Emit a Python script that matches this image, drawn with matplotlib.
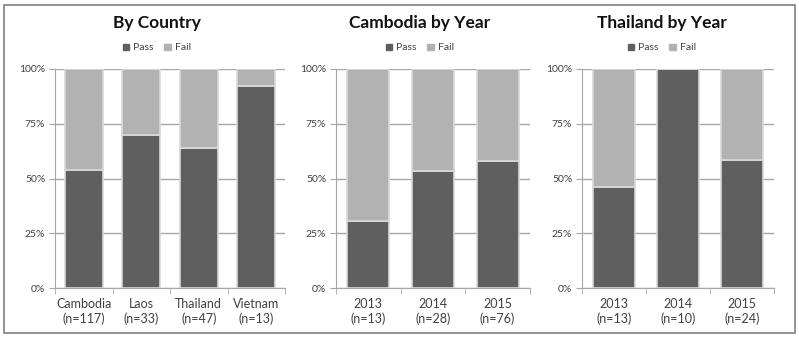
import matplotlib
matplotlib.use("Agg")
from matplotlib import pyplot as plt
from matplotlib.patches import Rectangle, Patch
from matplotlib.ticker import FixedLocator, PercentFormatter

plt.rcParams['font.family'] = ['Lato', 'DejaVu Sans']

# counts (pass / total)
country_names = ['Cambodia', 'Laos', 'Thailand', 'Vietnam']
country_pass = [63, 23, 30, 12]
country_n = [117, 33, 47, 13]

cambodia_years = ['2013', '2014', '2015']
cambodia_pass = [4, 15, 44]
cambodia_n = [13, 28, 76]

thailand_years = ['2013', '2014', '2015']
thailand_pass = [6, 10, 14]
thailand_n = [13, 10, 24]

PASS_C = '#5f5f5f'
FAIL_C = '#b2b2b2'
EDGE_C = '#d9d9d9'
AX_C = '#a6a6a6'
TXT_C = '#404040'

W, H = 799, 339


def px_axes(fig, left, right, top, bottom):
	return fig.add_axes([left / W, (H - bottom) / H, (right - left) / W, (bottom - top) / H])


def panel(fig, box, cats, passed, totals, title, cx, width):
	ax = px_axes(fig, *box)
	xs = list(range(len(cats)))
	p = [100.0 * a / b for a, b in zip(passed, totals)]
	f = [100.0 - v for v in p]
	ax.bar(xs, p, width=width, color=PASS_C, edgecolor=EDGE_C, linewidth=1.2, zorder=3)
	ax.bar(xs, f, bottom=p, width=width, color=FAIL_C, edgecolor=EDGE_C, linewidth=1.2, zorder=3)
	ax.set_xlim(-0.5, len(cats) - 0.5)
	ax.set_ylim(0, 100)
	ax.yaxis.set_major_locator(FixedLocator([0, 25, 50, 75, 100]))
	ax.yaxis.set_major_formatter(PercentFormatter(decimals=0))
	ax.grid(axis='y', color=AX_C, linewidth=1, zorder=0)
	ax.set_axisbelow(True)
	ax.set_xticks(xs)
	ax.set_xticklabels(['%s\n(n=%d)' % (c, n) for c, n in zip(cats, totals)],
		fontsize=9, color=TXT_C, linespacing=1.3)
	ax.set_xticks([i - 0.5 for i in range(len(cats) + 1)], minor=True)
	ax.tick_params(axis='x', which='major', length=0, pad=7)
	ax.tick_params(axis='x', which='minor', length=4, color=AX_C, direction='out')
	ax.tick_params(axis='y', length=4, color=AX_C, labelsize=7.5, labelcolor=TXT_C, pad=3)
	for s in ('top', 'right'):
		ax.spines[s].set_visible(False)
	for s in ('left', 'bottom'):
		ax.spines[s].set_color(AX_C)
	fig.text(cx / W, 1 - 23 / H, title, ha='center', va='center', fontsize=12.5,
		fontweight='bold', color='#111111')
	handles = [Patch(color=PASS_C), Patch(color=FAIL_C)]
	fig.legend(handles, ['Pass', 'Fail'], loc='center', bbox_to_anchor=(cx / W, 1 - 48 / H),
		ncol=2, frameon=False, fontsize=7.5, handlelength=0.6, handleheight=0.6,
		handletextpad=0.4, columnspacing=1.0, labelcolor=TXT_C)
	return ax


fig = plt.figure(figsize=(W / 100, H / 100), dpi=100)
fig.patches.append(Rectangle((4 / W, 6 / H), 791 / W, 328 / H, transform=fig.transFigure,
	fill=False, edgecolor='#7f7f7f', linewidth=1.2))

panel(fig, (55, 285, 69, 288), country_names, country_pass, country_n, 'By Country', 157, 0.66)
panel(fig, (336, 530, 69, 288), cambodia_years, cambodia_pass, cambodia_n, 'Cambodia by Year', 420, 0.65)
panel(fig, (582, 774, 69, 288), thailand_years, thailand_pass, thailand_n, 'Thailand by Year', 662, 0.66)

fig.savefig('out.png', dpi=100)
